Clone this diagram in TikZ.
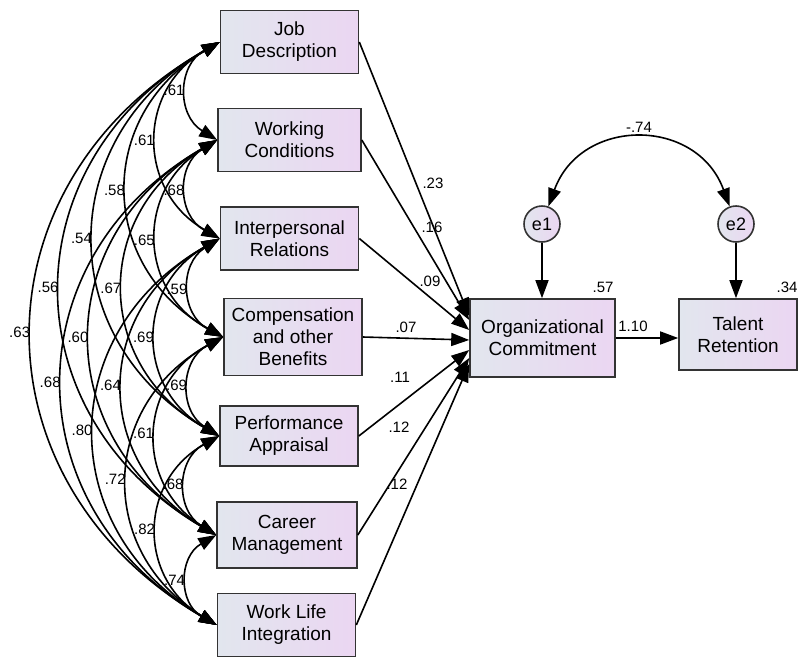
\documentclass[tikz,border=0pt]{standalone}
\usepackage{fontspec}
\setmainfont{Liberation Sans}
\usetikzlibrary{arrows.meta}
\definecolor{boxL}{RGB}{226,230,238}
\definecolor{boxR}{RGB}{235,214,242}

\begin{document}
\begin{tikzpicture}[x=1pt, y=-1pt, line width=1.6pt,
	font=\fontsize{19}{22}\selectfont,
	>={Triangle[length=18pt,width=13pt]},
	var/.style={draw=black!80, left color=boxL, right color=boxR, align=center,
		minimum width=138pt, minimum height=63pt, inner sep=2pt},
	err/.style={draw=black!80, circle, left color=boxL, right color=boxR,
		minimum size=36pt, inner sep=0pt, font=\fontsize{18}{20}\selectfont},
	num/.style={font=\fontsize{15}{17}\selectfont, inner sep=1pt}]
			\useasboundingbox (0,0) rectangle (798,659);
			%observed variables
			\node[var] (jd) at (289.5,42) {Job\\Description};
			\node[var, minimum width=143pt] (wc) at (289.5,140) {Working\\Conditions};
			\node[var] (ir) at (289.5,238.5) {Interpersonal\\Relations};
			\node[var, minimum height=77pt] (cb) at (293,337) {Compensation\\and other\\Benefits};
			\node[var, minimum height=60pt] (pa) at (289,436) {Performance\\Appraisal};
			\node[var, minimum height=66pt, minimum width=140pt] (cm) at (287,535) {Career\\Management};
			\node[var] (wl) at (286.5,625) {Work Life\\Integration};
			\node[var, minimum width=145pt, minimum height=78pt] (oc) at (542.5,338) {Organizational\\Commitment};
			\node[var, minimum width=118pt, minimum height=71pt] (tr) at (738,334.5) {Talent\\Retention};
			%errors
			\node[err] (e1) at (542,224) {e1};
			\node[err] (e2) at (736,224) {e2};
			%covariances
			\foreach \a/\b/\r in {
				jd/wc/.61, jd/ir/.61, jd/cb/.58, jd/pa/.54, jd/cm/.56, jd/wl/.63,
				wc/ir/.68, wc/cb/.65, wc/pa/.67, wc/cm/.60, wc/wl/.68,
				ir/cb/.59, ir/pa/.69, ir/cm/.64, ir/wl/.80,
				cb/pa/.69, cb/cm/.61, cb/wl/.72,
				pa/cm/.68, pa/wl/.82,
				cm/wl/.74
			}
			\draw[<->] (\a.west) to[bend right=60, looseness=1.25]
			node[num, midway, left=1pt] (c-\a-\b) {\r} (\b.west);
			%paths
			\foreach \a/\s/\w/\lx/\ly in {
				jd/22/.23/433/183,
				wc/18/.16/432/227,
				ir/8/.09/430/281,
				cb/-2/.07/406/327,
				pa/-12/.11/400/377,
				cm/-20/.12/399/427,
				wl/-26/.12/397/484
			}
			{
				\draw[->] (\a.east) -- ([yshift=\s pt]oc.west);
				\node[num] (w-\a) at (\lx,\ly) {\w};
			}
			\draw[->] (oc.east) -- (oc.east -| tr.west);
			\node[num] (w-oc) at (633,326) {1.10};
			\draw[->] (e1) -- (e1 |- oc.north);
			\draw[->] (e2) -- (e2 |- tr.north);
			\draw[<->] (e1) to[bend left=70, looseness=1.35]
			node[num, midway, above=5pt] (c-e1-e2) {-.74} (e2);
			%squared correlations
			\node[num] (r-oc) at (603,287) {.57};
			\node[num] (r-tr) at (787,287) {.34};
\end{tikzpicture}
\end{document}
